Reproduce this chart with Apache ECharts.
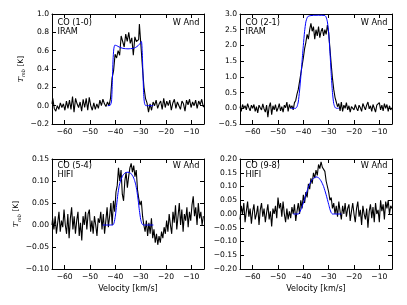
<!DOCTYPE html>
<html>
<head>
<meta charset="utf-8">
<script src="https://cdn.jsdelivr.net/npm/echarts@6/dist/echarts.min.js"></script>
<style>
html,body{margin:0;padding:0;background:#fff;}
#chart{width:407px;height:305px;}
</style>
</head>
<body>
<div id="chart"></div>
<script>
// ---------- data ----------
const panelTitles = ['CO (1-0)', 'CO (2-1)', 'CO (5-4)', 'CO (9-8)'];
const panelInstr = ['IRAM', 'IRAM', 'HIFI', 'HIFI'];
const starName = 'W And';
const xTicks = [-60, -50, -40, -30, -20, -10];
const yRanges = [[-0.2, 1.0, 0.2, 1], [-0.5, 3.0, 0.5, 1], [-0.10, 0.15, 0.05, 2], [-0.20, 0.20, 0.05, 2]];

// channel grids: [start, step, count]
const grid10 = [-65, 0.6, 101];
const grid21 = [-65, 0.5, 121];
const grid54 = [-65, 0.5, 121];
const grid98 = [-65, 0.5, 121];

const obs10 = [
  0.02, 0.08, -0.03, -0.06, 0.0, -0.04, 0.03, -0.02, 0.02, -0.05,
  0.05, -0.03, 0.06, -0.04, 0.10, -0.07, 0.08, 0.02, -0.02, 0.04,
  -0.06, 0.07, -0.02, 0.08, -0.05, 0.09, 0.0, -0.05, 0.03, -0.04,
  0.02, -0.03, 0.06, 0.0, 0.07, 0.02, -0.01, 0.04, 0.0, 0.08,
  0.30, 0.38, 0.56, 0.52, 0.60, 0.55, 0.76, 0.70, 0.64, 0.78,
  0.70, 0.80, 0.68, 0.74, 0.55, 0.75, 0.70, 0.72, 0.89, 0.66,
  0.42, 0.20, 0.08, 0.03, -0.07, 0.02, -0.05, 0.04, 0.0, 0.06,
  -0.03, 0.02, 0.05, -0.04, 0.08, -0.02, 0.05, 0.0, 0.06, -0.05,
  0.03, 0.07, -0.03, 0.04, 0.0, -0.04, 0.05, 0.02, -0.06, 0.06,
  0.01, 0.07, -0.02, 0.04, 0.0, 0.06, -0.03, 0.05, 0.01, 0.07,
  -0.01
];
const obs21 = [
  0.05, -0.10, 0.12, 0.0, 0.08, -0.05, 0.15, 0.02, -0.08, 0.10,
  0.0, 0.12, -0.10, 0.05, -0.15, 0.10, 0.02, -0.05, 0.14, -0.02,
  -0.12, 0.10, -0.28, 0.05, 0.18, -0.20, 0.08, -0.05, 0.12, -0.10,
  0.0, 0.15, -0.08, 0.05, -0.12, 0.10, 0.02, 0.20, -0.10, 0.12,
  0.0, 0.08, -0.05, 0.18, 0.25, 0.45, 0.60, 0.85, 1.10, 1.35,
  1.60, 1.90, 2.10, 2.35, 2.20, 2.50, 2.70, 2.45, 2.60, 2.20,
  2.50, 2.30, 2.60, 2.25, 2.45, 2.55, 2.30, 2.50, 2.35, 2.65,
  2.40, 1.90, 1.40, 0.95, 0.60, 0.35, 0.20, 0.05, 0.15, -0.08,
  0.20, -0.10, 0.10, 0.0, 0.18, -0.05, 0.08, -0.12, 0.05, 0.10,
  -0.05, 0.12, 0.0, -0.08, 0.10, 0.02, -0.10, 0.15, 0.05, -0.05,
  0.10, 0.20, -0.02, 0.08, -0.10, 0.12, 0.0, -0.12, 0.10, 0.05,
  0.18, -0.05, 0.10, -0.08, 0.15, 0.0, 0.12, -0.10, 0.08, -0.05,
  0.02
];
const obs54 = [
  0.0, 0.015, -0.01, 0.02, -0.02, 0.005, 0.03, -0.015, 0.01, -0.005,
  0.035, 0.0, -0.02, 0.025, -0.03, 0.015, 0.04, -0.01, 0.02, -0.02,
  0.01, 0.03, -0.025, 0.005, -0.035, 0.02, 0.0, 0.03, -0.01, 0.025,
  0.035, -0.015, 0.01, -0.02, 0.02, 0.0, -0.025, 0.015, 0.005, 0.03,
  -0.01, 0.025, -0.02, 0.01, 0.04, -0.005, 0.02, 0.05, 0.0, 0.055,
  0.03, 0.075, 0.09, 0.13, 0.10, 0.125, 0.07, 0.055, 0.10, 0.12,
  0.085, 0.11, 0.13, 0.14, 0.12, 0.135, 0.11, 0.125, 0.08, 0.06,
  0.045, 0.055, 0.02, 0.0, -0.015, 0.01, -0.025, 0.005, -0.02, 0.015,
  -0.03, -0.01, -0.04, -0.02, -0.045, -0.025, -0.04, -0.015, -0.03, -0.005,
  -0.02, 0.01, -0.015, 0.025, 0.0, -0.02, 0.03, 0.005, 0.045, -0.01,
  0.02, 0.05, 0.0, 0.035, -0.015, 0.025, 0.01, 0.04, -0.005, 0.03,
  0.01, 0.045, 0.065, 0.02, 0.04, 0.0, 0.05, 0.015, 0.03, 0.0,
  0.02
];
const obs98 = [
  -0.02, 0.03, 0.0, 0.04, -0.03, 0.01, 0.045, -0.01, 0.02, -0.035,
  0.01, 0.035, -0.02, 0.0, 0.03, -0.04, 0.015, 0.04, -0.01, 0.02,
  -0.03, 0.005, 0.035, -0.02, 0.01, -0.045, 0.02, 0.0, 0.03, -0.015,
  0.06, 0.02, 0.04, -0.01, 0.045, 0.0, -0.03, 0.02, -0.02, 0.01,
  -0.015, 0.025, 0.0, 0.035, -0.025, 0.01, 0.04, 0.0, 0.05, 0.02,
  0.07, 0.04, 0.08, 0.06, 0.11, 0.09, 0.13, 0.11, 0.15, 0.13,
  0.16, 0.14, 0.18, 0.165, 0.19, 0.17, 0.175, 0.155, 0.12, 0.10,
  0.08, 0.05, 0.06, 0.02, 0.04, 0.0, 0.03, -0.01, 0.045, 0.01,
  -0.02, 0.03, 0.0, 0.04, -0.01, 0.02, 0.035, -0.025, 0.01, 0.04,
  0.0, -0.03, 0.02, 0.045, -0.01, 0.015, -0.04, 0.03, 0.0, -0.02,
  0.02, -0.05, 0.01, 0.035, -0.015, 0.025, -0.03, 0.04, 0.0, 0.015,
  -0.03, 0.05, 0.01, 0.035, -0.02, 0.045, 0.02, 0.05, 0.0, 0.03,
  0.02
];

// model fits (blue): [velocity, T]
const model10 = [[-43,0],[-42,0.005],[-41.5,0.05],[-41.2,0.25],[-40.9,0.5],[-40.6,0.62],[-40.2,0.66],[-39.5,0.655],[-38.5,0.64],[-37,0.625],[-35,0.62],[-33,0.625],[-32,0.635],[-31,0.655],[-30.2,0.68],[-29.7,0.70],[-29.4,0.6],[-29.1,0.35],[-28.8,0.12],[-28.5,0.03],[-28,0],[-25,0]];
const model21 = [[-45,0],[-43,0],[-42.5,0.05],[-42,0.2],[-41.5,0.55],[-41,1.0],[-40.5,1.5],[-40,2.0],[-39.5,2.45],[-39,2.75],[-38.5,2.88],[-38,2.93],[-37,2.95],[-35,2.96],[-33,2.96],[-31.5,2.95],[-31,2.9],[-30.5,2.75],[-30,2.4],[-29.5,1.8],[-29,1.1],[-28.5,0.5],[-28,0.15],[-27.5,0.03],[-27,0],[-26,0]];
const model54 = [[-45,0],[-41,0],[-40.5,0.005],[-40,0.02],[-39.5,0.045],[-39,0.07],[-38.5,0.088],[-38,0.1],[-37,0.113],[-36,0.119],[-35,0.12],[-34,0.118],[-33,0.11],[-32.5,0.103],[-32,0.093],[-31.5,0.078],[-31,0.057],[-30.5,0.033],[-30,0.013],[-29.5,0.003],[-29,0],[-25,0]];
const model98 = [[-44,0],[-42,0],[-41.5,0.005],[-41,0.015],[-40,0.04],[-39,0.07],[-38,0.098],[-37,0.118],[-36,0.13],[-35,0.135],[-34,0.132],[-33,0.12],[-32,0.1],[-31,0.07],[-30,0.035],[-29.5,0.017],[-29,0.005],[-28.5,0],[-25,0]];

// ---------- build ----------
function zipGrid(g, vals) {
  const out = [];
  for (let i = 0; i < vals.length; i++) out.push([+(g[0] + g[1] * i).toFixed(2), vals[i]]);
  return out;
}
const observed = [zipGrid(grid10, obs10), zipGrid(grid21, obs21), zipGrid(grid54, obs54), zipGrid(grid98, obs98)];
const models = [model10, model21, model54, model98];
const stepped = [true, false, true, false];

const FONT = 'DejaVu Sans';
const boxes = [
  {left: 52, top: 14, width: 152, height: 110},
  {left: 240, top: 14, width: 152, height: 110},
  {left: 52, top: 159, width: 152, height: 110},
  {left: 240, top: 159, width: 152, height: 110}
];
function fmtNum(v, d) {
  if (Math.abs(v) < 1e-9) return (0).toFixed(d);
  return (v < 0 ? '\u2212' : '') + Math.abs(v).toFixed(d);
}
const line = {show: true, onZero: false, lineStyle: {color: '#000', width: 1}};
const xAxes = [], yAxes = [], series = [], graphics = [];
boxes.forEach((b, i) => {
  const r = yRanges[i];
  xAxes.push({
    type: 'value', gridIndex: i, min: -65, max: -5, position: 'bottom',
    axisLine: line, splitLine: {show: false},
    axisTick: {show: true, inside: true, length: 4, customValues: xTicks, lineStyle: {color: '#000'}},
    axisLabel: {show: true, customValues: xTicks, formatter: v => fmtNum(v, 0), fontFamily: FONT, fontSize: 7.6, color: '#000', margin: 4},
    name: i >= 2 ? 'Velocity [km/s]' : '', nameLocation: 'middle', nameGap: 16,
    nameTextStyle: {fontFamily: FONT, fontSize: 8, color: '#000'}
  });
  xAxes.push({
    type: 'value', gridIndex: i, min: -65, max: -5, position: 'top',
    axisLine: line, splitLine: {show: false},
    axisTick: {show: true, inside: true, length: 4, customValues: xTicks, lineStyle: {color: '#000'}},
    axisLabel: {show: false}
  });
  yAxes.push({
    type: 'value', gridIndex: i, min: r[0], max: r[1], interval: r[2], position: 'left',
    axisLine: line, splitLine: {show: false},
    axisTick: {show: true, inside: true, length: 4, lineStyle: {color: '#000'}},
    axisLabel: {formatter: v => fmtNum(v, r[3]), fontFamily: FONT, fontSize: 7.6, color: '#000', margin: 3},
    name: (i % 2 === 0) ? '{t|T}{s|mb} [K]' : '', nameLocation: 'middle', nameGap: 24, nameRotate: 90,
    nameTextStyle: {fontFamily: FONT, fontSize: 7.5, color: '#000',
      rich: {
        t: {fontFamily: 'DejaVu Serif', fontStyle: 'italic', fontSize: 8, lineHeight: 11, color: '#000'},
        s: {fontFamily: 'DejaVu Serif', fontStyle: 'italic', fontSize: 5, lineHeight: 11, verticalAlign: 'bottom', color: '#000'}
      }}
  });
  yAxes.push({
    type: 'value', gridIndex: i, min: r[0], max: r[1], interval: r[2], position: 'right',
    axisLine: line, splitLine: {show: false},
    axisTick: {show: true, inside: true, length: 4, lineStyle: {color: '#000'}},
    axisLabel: {show: false}
  });
  series.push({
    type: 'line', xAxisIndex: 2 * i, yAxisIndex: 2 * i, data: observed[i],
    step: stepped[i] ? 'middle' : false, showSymbol: false, symbol: 'none',
    lineStyle: {color: '#000', width: 1.1}, z: 2, silent: true, clip: true
  });
  series.push({
    type: 'line', xAxisIndex: 2 * i, yAxisIndex: 2 * i, data: models[i],
    smooth: 0.2, showSymbol: false, symbol: 'none',
    lineStyle: {color: '#0000ff', width: 1}, z: 3, silent: true, clip: true
  });
  const off = i < 2 ? 9 : 6.5;
  graphics.push({type: 'text', x: b.left + 5.5, y: b.top + off, style: {text: panelTitles[i], font: '8.2px "DejaVu Sans"', fill: '#000', textVerticalAlign: 'middle', textAlign: 'left'}});
  graphics.push({type: 'text', x: b.left + 5.5, y: b.top + off + 9, style: {text: panelInstr[i], font: '8.2px "DejaVu Sans"', fill: '#000', textVerticalAlign: 'middle', textAlign: 'left'}});
  graphics.push({type: 'text', x: b.left + b.width - 4.5, y: b.top + off, style: {text: starName, font: '8.2px "DejaVu Sans"', fill: '#000', textVerticalAlign: 'middle', textAlign: 'right'}});
});

const chart = echarts.init(document.getElementById('chart'), null, {renderer: 'canvas'});
chart.setOption({
  animation: false,
  backgroundColor: '#fff',
  grid: boxes.map(b => Object.assign({containLabel: false}, b)),
  xAxis: xAxes,
  yAxis: yAxes,
  series: series,
  graphic: graphics
});
</script>
</body>
</html>
